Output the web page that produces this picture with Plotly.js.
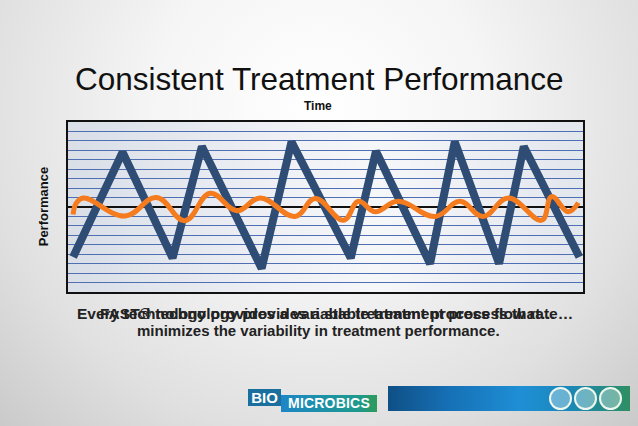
<!DOCTYPE html>
<html>
<head>
<meta charset="utf-8">
<script src="https://cdn.plot.ly/plotly-3.0.1.min.js"></script>
<style>
  html, body { margin:0; padding:0; }
  body { width:638px; height:426px; overflow:hidden; position:relative;
    background: radial-gradient(ellipse 75% 110% at 50% 25%, #ffffff 0%, #f5f5f5 35%, #e0e0e0 70%, #c6c6c6 100%); font-family: "Liberation Sans", Arial, sans-serif; }
  #plotbg { position:absolute; left:68px; top:122px; width:515px; height:170px;
    background: linear-gradient(90deg, #d9dee7 0%, #eef0f5 40%, #f6f7f9 60%, #e2e6ed 100%); }
  #chart { position:absolute; left:0; top:0; width:638px; height:426px; }
  .logo-bio { position:absolute; left:248px; top:389px; width:33px; height:17px; background:#1b6f9e; color:#fff; font-weight:bold; font-size:15px; line-height:17px; text-align:center; }
  .logo-mic { position:absolute; left:281px; top:395px; width:96px; height:17px; background:linear-gradient(90deg,#1d86c6,#1d9a8e 80%,#2e9a5a); color:#fff; font-weight:bold; font-size:14px; line-height:17px; text-align:center; letter-spacing:0.2px; }
  .bar { position:absolute; left:388px; top:386px; width:242px; height:25px;
    background: linear-gradient(90deg, #0f4f86 0%, #1670b5 25%, #1f8fd6 55%, #1a88b8 75%, #2e8f62 100%); }
  .globe { position:absolute; top:387px; width:19px; height:19px; border:2px solid #eef6ee; border-radius:50%; background:rgba(255,255,255,0.35); }
</style>
</head>
<body>
<div id="plotbg"></div>
<div id="chart"></div>
<div class="logo-bio">BIO</div>
<div class="logo-mic">MICROBICS</div>
<div class="bar"></div>
<div class="globe" style="left:549px"></div>
<div class="globe" style="left:574px"></div>
<div class="globe" style="left:599px"></div>
<script>
// Time axis runs 0..100 (arbitrary units); performance axis -9..9
const zigTime  = [1.0, 10.6, 20.3, 26.0, 37.6, 43.4, 54.9, 59.8, 70.3, 75.1, 83.7, 88.5, 99.3];
const zigPerf  = [-5.3, 5.8, -5.4, 6.4, -6.5, 6.9, -5.4, 5.9, -6.0, 6.9, -6.0, 6.4, -5.3];

const waveTime = [1.0, 1.6, 3.0, 11.1, 17.2, 22.7, 27.6, 32.8, 37.3, 44.1, 48.0, 53.5, 56.4, 59.6, 64.1, 71.3, 76.1, 80.6, 85.5, 92.0, 93.9, 97.1, 99.1];
const wavePerf = [-0.8, 0.4, 0.95, -0.95, 1.0, -1.45, 1.45, -0.4, 0.95, -1.0, 0.9, -1.4, 0.6, -0.5, 0.6, -1.0, 0.6, -1.0, 0.95, -1.4, 1.1, -0.5, 0.45];

const titleText = "Consistent Treatment Performance";
const xTitle = "Time";
const yTitle = "Performance";
const captionA = "Every technology provides a variable treatment process flow rate…";
const captionB = "FAST® technology provides a stable treatment process that…";
const captionC = "minimizes the variability in treatment performance.";

const traces = [
  { x: zigTime, y: zigPerf, mode: 'lines', type: 'scatter',
    line: { color: '#2f4d74', width: 8 }, hoverinfo: 'skip' },
  { x: waveTime, y: wavePerf, mode: 'lines', type: 'scatter',
    line: { color: '#f57b1f', width: 5, shape: 'spline', smoothing: 1.2 }, hoverinfo: 'skip' }
];

const font = "Liberation Sans, Arial, sans-serif";
const layout = {
  width: 638, height: 426,
  margin: { l: 68, r: 55, t: 122, b: 134 },
  paper_bgcolor: 'rgba(0,0,0,0)',
  plot_bgcolor: 'rgba(0,0,0,0)',
  showlegend: false,
  xaxis: { range: [0, 100], showgrid: false, zeroline: false, showticklabels: false, ticks: '',
    showline: true, mirror: true, linecolor: '#111', linewidth: 2 },
  yaxis: { range: [-9, 9], dtick: 1, tick0: 0, showgrid: true, gridcolor: '#4f6fb3', gridwidth: 1,
    zeroline: true, zerolinecolor: '#111', zerolinewidth: 2,
    showticklabels: false, ticks: '', showline: true, mirror: true, linecolor: '#111', linewidth: 2 },
  annotations: [
    { text: titleText, xref: 'paper', yref: 'paper', x: 0.487, y: 1.253, xanchor: 'center', yanchor: 'middle',
      showarrow: false, font: { family: font, size: 31.5, color: '#111' } },
    { text: '<b>' + xTitle + '</b>', xref: 'paper', yref: 'paper', x: 0.486, y: 1.094, xanchor: 'center', yanchor: 'middle',
      showarrow: false, font: { family: font, size: 12, color: '#111' } },
    { text: '<b>' + yTitle + '</b>', xref: 'paper', yref: 'paper', x: -0.048, y: 0.5, xanchor: 'center', yanchor: 'middle',
      textangle: -90, showarrow: false, font: { family: font, size: 13, color: '#111' } },
    { text: '<b>' + captionA + '</b>', xref: 'paper', yref: 'paper', x: 0.499, y: -0.124, xanchor: 'center', yanchor: 'middle',
      showarrow: false, font: { family: font, size: 15.5, color: '#222' } },
    { text: '<b>' + captionB + '</b>', xref: 'paper', yref: 'paper', x: 0.505, y: -0.124, xanchor: 'center', yanchor: 'middle',
      showarrow: false, font: { family: font, size: 15.5, color: '#222' } },
    { text: '<b>' + captionC + '</b>', xref: 'paper', yref: 'paper', x: 0.486, y: -0.229, xanchor: 'center', yanchor: 'middle',
      showarrow: false, font: { family: font, size: 15, color: '#222' } }
  ]
};

Plotly.newPlot('chart', traces, layout, { staticPlot: true, displayModeBar: false });
</script>
</body>
</html>
